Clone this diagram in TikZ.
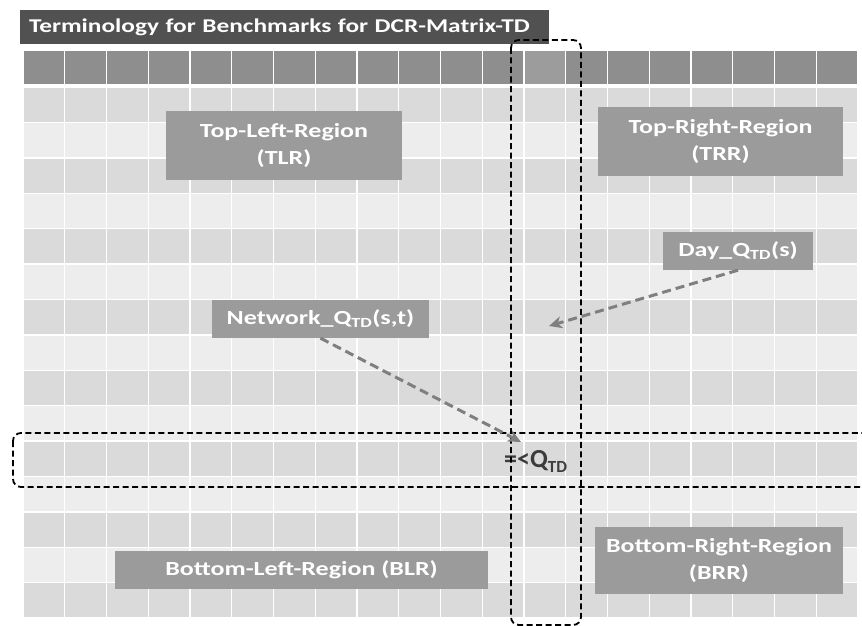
\documentclass[tikz,border=0pt]{standalone}
\usepackage{fontspec}
\setmainfont{Carlito}[FakeStretch=1.3]
\newfontfamily\markfont{Carlito}
\usetikzlibrary{arrows.meta}
\definecolor{hdrgray}{HTML}{8E8E8E}
\definecolor{hdrlight}{HTML}{9C9C9C}
\definecolor{rowdark}{HTML}{DADADA}
\definecolor{rowlight}{HTML}{EDEDED}
\definecolor{boxgray}{HTML}{9B9B9B}
\definecolor{titlegray}{HTML}{515151}
\definecolor{flowgray}{HTML}{7F7F7F}
\definecolor{formulagray}{HTML}{3C3C3C}
\tikzset{
  cell/.style={draw=white, line width=1.4pt},
  region/.style={fill=boxgray, text=white, font=\bfseries\fontsize{20}{27}\selectfont,
    inner sep=0pt, align=center},
  zone/.style={draw=black, line width=1.8pt, dash pattern=on 6pt off 3.5pt, rounded corners=8pt},
  flow/.style={draw=flowgray, line width=3pt, dash pattern=on 9pt off 5pt,
    -{Stealth[length=13pt,width=12pt,inset=4pt]}},
}
\newcommand{\qtd}{Q\textsubscript{TD}}
\begin{document}
\begin{tikzpicture}[x=1pt,y=-1pt]
\useasboundingbox (0,0) rectangle (862,626);
\fill[white] (0,0) rectangle (862,626);

% header row of the matrix
\foreach \c in {0,...,19}
  \fill[cell, fill=hdrgray] ({23+\c*41.75},50) rectangle ++(41.75,35);
\fill[cell, fill=hdrlight] ({23+12*41.75},50) rectangle ++(41.75,35);

% body rows, alternating shades
\foreach \r in {0,2,...,14}
  \foreach \c in {0,...,19}
    \fill[cell, fill=rowdark] ({23+\c*41.75},{87+\r*35.4}) rectangle ++(41.75,35.4);
\foreach \r in {1,3,...,13}
  \foreach \c in {0,...,19}
    \fill[cell, fill=rowlight] ({23+\c*41.75},{87+\r*35.4}) rectangle ++(41.75,35.4);

% title bar
\node[fill=titlegray, text=white, font=\bfseries\fontsize{19.5}{22}\selectfont,
  minimum width=529pt, minimum height=34pt, inner sep=0pt, inner xsep=9pt,
  text width=511pt, align=left] (title) at (284.5,27) {Terminology for Benchmarks for DCR-Matrix-TD};

% region labels
\node[region, minimum width=236pt, minimum height=69pt] (tlr) at (284,145.5) {Top-Left-Region\\(TLR)};
\node[region, minimum width=245pt, minimum height=69pt] (trr) at (720.5,141.5) {Top-Right-Region\\(TRR)};
\node[region, minimum width=373pt, minimum height=38pt] (blr) at (301.5,570) {Bottom-Left-Region (BLR)};
\node[region, minimum width=248pt, minimum height=67pt] (brr) at (719,560.5) {Bottom-Right-Region\\(BRR)};

% quota labels
\node[region, minimum width=150pt, minimum height=38pt] (day) at (738,251) {Day\_\qtd(s)};
\node[region, minimum width=217pt, minimum height=38pt] (net) at (320.5,319) {Network\_\qtd(s,t)};

% threshold marker
\node[anchor=base west, text=formulagray, inner sep=0pt, font=\markfont\bfseries\fontsize{26}{30}\selectfont]
  (thr) at (504,467) {=<Q\raisebox{-0.45ex}{\fontsize{17}{20}\selectfont TD}};

% column and row zones
\draw[zone] (511,40) rectangle (581,625);
\draw[zone] (13,433) rectangle (880,487);

% arrows into the zones
\coordinate (netend) at (521,442);
\coordinate (dayend) at (549,326);
\draw[flow] (net.south) -- (netend);
\draw[flow] (day.south) -- (dayend);
\end{tikzpicture}
\end{document}
